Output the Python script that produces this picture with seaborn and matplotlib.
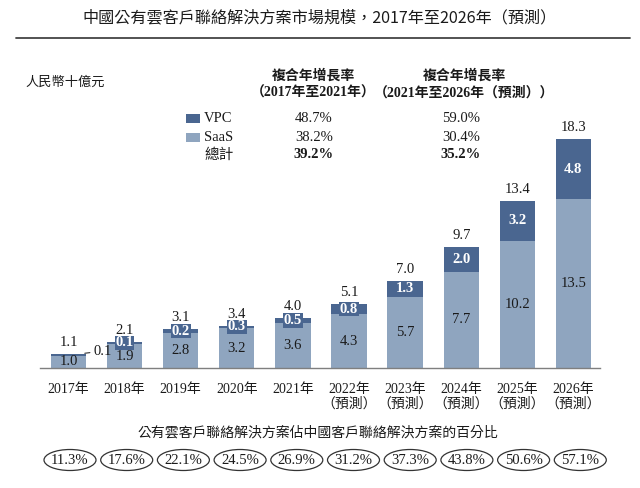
import matplotlib
matplotlib.use("Agg")
import matplotlib.pyplot as plt
from matplotlib.patches import Ellipse
from matplotlib.lines import Line2D
import seaborn as sns
import pandas as pd

# ---------------- data ----------------
years = ["2017年", "2018年", "2019年", "2020年", "2021年",
         "2022年", "2023年", "2024年", "2025年", "2026年"]
forecast = [False, False, False, False, False, True, True, True, True, True]
saas = [1.0, 1.9, 2.8, 3.2, 3.6, 4.3, 5.7, 7.7, 10.2, 13.5]
vpc = [0.1, 0.1, 0.2, 0.3, 0.5, 0.8, 1.3, 2.0, 3.2, 4.8]
total = [1.1, 2.1, 3.1, 3.4, 4.0, 5.1, 7.0, 9.7, 13.4, 18.3]
share = [11.3, 17.6, 22.1, 24.5, 26.9, 31.2, 37.3, 43.8, 50.6, 57.1]

series_names = ["VPC", "SaaS", "總計"]
cagr_2017_2021 = ["48.7%", "38.2%", "39.2%"]
cagr_2021_2026 = ["59.0%", "30.4%", "35.2%"]

title = "中國公有雲客戶聯絡解決方案市場規模，2017年至2026年（預測）"
unit_label = "人民幣十億元"
header1 = ["複合年增長率", "（2017年至2021年）"]
header2 = ["複合年增長率", "（2021年至2026年（預測））"]
share_title = "公有雲客戶聯絡解決方案佔中國客戶聯絡解決方案的百分比"

# ---------------- style ----------------
C_VPC = "#4a6690"
C_SAAS = "#8fa5bf"
SERIF = ["Liberation Serif", "Noto Sans CJK TC"]
SANS = ["Noto Sans CJK TC", "DejaVu Sans"]

sns.set_theme(style="white")
plt.rcParams["font.family"] = SERIF

W, H = 640, 488
fig = plt.figure(figsize=(W / 100, H / 100), dpi=100)


def fx(x):
    return x / W


def fy(y):
    return 1 - y / H


# axes geometry (pixels)
ax_left, ax_right, ax_top, ax_bottom = 40, 600, 110, 368
ax = fig.add_axes([fx(ax_left), fy(ax_bottom), fx(ax_right) - fx(ax_left),
                   fy(ax_top) - fy(ax_bottom)])

xlabels = [y + ("\n（預測）" if f else "") for y, f in zip(years, forecast)]
df = pd.DataFrame({"year": xlabels, "total": total, "saas": saas})

sns.barplot(data=df, x="year", y="total", color=C_VPC, width=0.63,
            linewidth=0, saturation=1, ax=ax, order=xlabels)
sns.barplot(data=df, x="year", y="saas", color=C_SAAS, width=0.63,
            linewidth=0, saturation=1, ax=ax, order=xlabels)

ppu = 12.5  # pixels per unit
ax.set_ylim(0, (ax_bottom - ax_top) / ppu)
bar_sp = 56.1
ax.set_xlim((ax_left - 68.5) / bar_sp, (ax_right - 68.5) / bar_sp)

ax.set_xlabel("")
ax.set_ylabel("")
ax.set_yticks([])
for s in ["top", "left", "right"]:
    ax.spines[s].set_visible(False)
ax.spines["bottom"].set_color("#7f7f7f")
ax.spines["bottom"].set_linewidth(1.0)
ax.tick_params(axis="x", length=0, pad=10.5, labelsize=10)
for t in ax.get_xticklabels():
    t.set_linespacing(1.15)
    t.set_color("#1a1a1a")

# value labels
for i in range(len(years)):
    # total
    ax.annotate(f"{total[i]:.1f}", xy=(i, total[i]), xytext=(0, 3.5),
                textcoords="offset points", ha="center", va="bottom",
                fontsize=10.5, color="#1a1a1a")
    # saas
    ax.text(i, saas[i] / 2, f"{saas[i]:.1f}", ha="center", va="center",
            fontsize=10.5, color="#1a1a1a")
    # vpc
    if i == 0:
        ax.annotate(f"{vpc[i]:.1f}", xy=(0.29, total[i] + 0.08),
                    xytext=(0.44, total[i] + 0.25), ha="left", va="center",
                    fontsize=10.5, color="#1a1a1a",
                    arrowprops=dict(arrowstyle="-", lw=0.8, color="#333333",
                                    shrinkA=0, shrinkB=0))
    else:
        ax.text(i, saas[i] + (total[i] - saas[i]) / 2, f"{vpc[i]:.1f}",
                ha="center", va="center", fontsize=10.5, color="white",
                fontweight="bold",
                bbox=dict(boxstyle="square,pad=0.05", fc=C_VPC, ec="none"))

# ---------------- title ----------------
fig.text(fx(320), fy(18), title, ha="center", va="center", fontsize=11.6,
         family=SANS, color="#1a1a1a")
fig.add_artist(Line2D([fx(16), fx(630)], [fy(38), fy(38)],
                      transform=fig.transFigure, color="#444444", lw=1.3))

# ---------------- unit + CAGR table ----------------
fig.text(fx(25), fy(83), unit_label, ha="left", va="center", fontsize=9.5,
         color="#1a1a1a")
for cx, hdr in [(313, header1), (464, header2)]:
    fig.text(fx(cx), fy(76), hdr[0], ha="center", va="center", fontsize=10,
             fontweight="bold", color="#1a1a1a")
    fig.text(fx(cx), fy(93), hdr[1], ha="center", va="center", fontsize=10,
             fontweight="bold", color="#1a1a1a")

row_y = [118, 137, 155]
sq_colors = [C_VPC, C_SAAS, None]
for r, (name, a, b) in enumerate(zip(series_names, cagr_2017_2021, cagr_2021_2026)):
    y = row_y[r]
    bold = "bold" if r == 2 else "normal"
    if sq_colors[r] is not None:
        fig.add_artist(plt.Rectangle((fx(186), fy(y + 4.5)), fx(14), 9 / H,
                                     transform=fig.transFigure,
                                     fc=sq_colors[r], ec="none"))
    fig.text(fx(204), fy(y), name, ha="left", va="center", fontsize=10.5,
             color="#1a1a1a")
    fig.text(fx(314), fy(y), a, ha="center", va="center", fontsize=10.5,
             fontweight=bold, color="#1a1a1a")
    fig.text(fx(461), fy(y), b, ha="center", va="center", fontsize=10.5,
             fontweight=bold, color="#1a1a1a")

# ---------------- share row ----------------
fig.text(fx(318), fy(433), share_title, ha="center", va="center",
         fontsize=10, color="#1a1a1a")
for i, v in enumerate(share):
    cx = 70 + i * 56.7
    fig.add_artist(Ellipse((fx(cx), fy(460)), 52 / W, 21 / H,
                           transform=fig.transFigure, fc="none",
                           ec="#333333", lw=0.9))
    fig.text(fx(cx), fy(460), f"{v:.1f}%", ha="center", va="center",
             fontsize=10.5, color="#1a1a1a")

fig.savefig("out.png", dpi=100)
